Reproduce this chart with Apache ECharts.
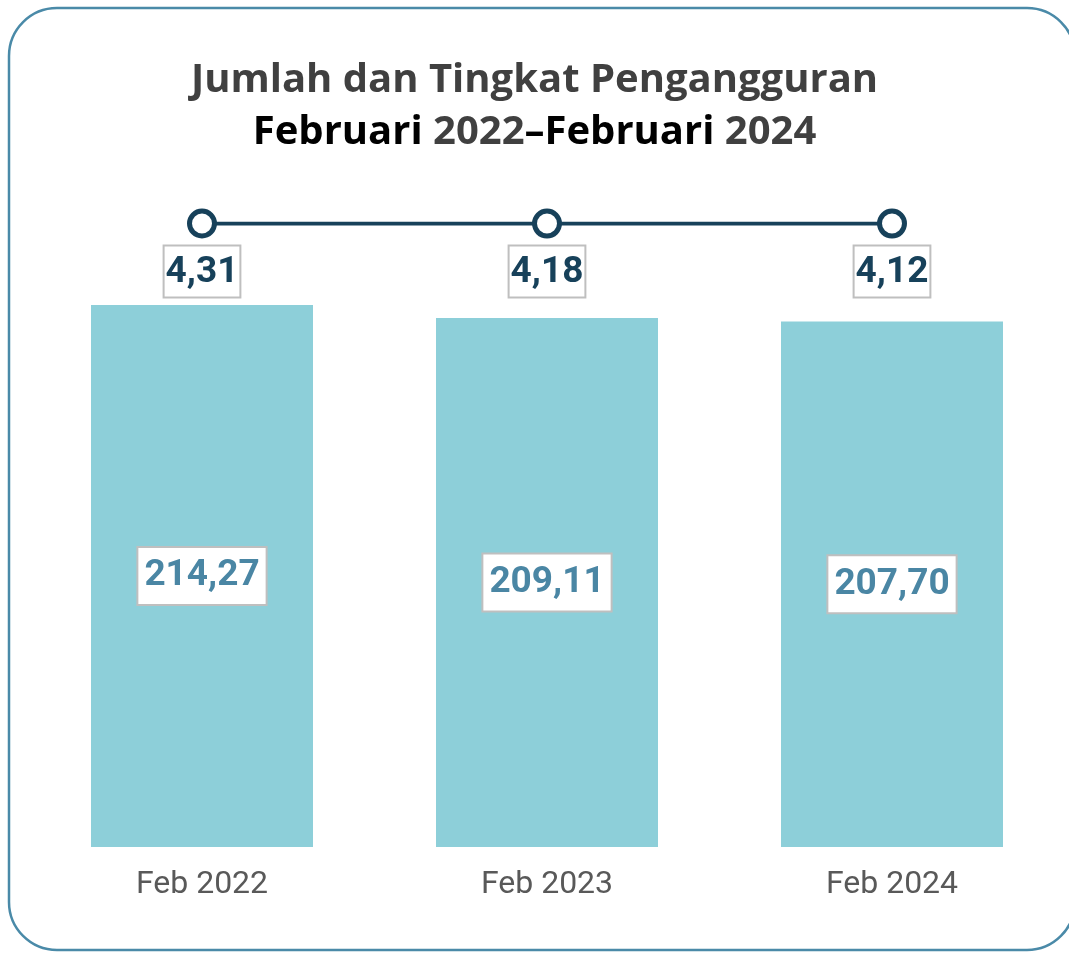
<!DOCTYPE html>
<html>
<head>
<meta charset="utf-8">
<script src="https://cdn.jsdelivr.net/npm/echarts@6/dist/echarts.min.js"></script>
<style>
  html, body { margin: 0; padding: 0; background: #fff; }
  #main { width: 1069px; height: 953px; }
</style>
</head>
<body>
<div id="main"></div>
<script>
// data
let categories = ['Feb 2022', 'Feb 2023', 'Feb 2024'];
let jumlah = [214.27, 209.11, 207.70];   // bars
let tingkat = [4.31, 4.18, 4.12];        // line

let narrow = 'Roboto, "Liberation Sans", sans-serif';
let fmt = function (v, d) { return v.toFixed(d).replace('.', ','); };

let chart = echarts.init(document.getElementById('main'));

let option = {
    backgroundColor: '#fff',
    animation: false,
    title: {
        left: 'center',
        top: 50,
        text: '{a|Jumlah dan Tingkat Pengangguran}\n{b|Februari }{c|2022}{b|–Februari }{c|2024}',
        textStyle: {
            rich: {
                a: { fontFamily: 'Open Sans', fontWeight: 'bold', fontSize: 40, color: '#404040', lineHeight: 52 },
                b: { fontFamily: 'Open Sans', fontWeight: 'bold', fontSize: 40, color: '#000', lineHeight: 52 },
                c: { fontFamily: 'Open Sans', fontWeight: 'bold', fontSize: 40, color: '#404040', lineHeight: 52 }
            }
        }
    },
    graphic: [{
        type: 'rect',
        shape: { x: 9, y: 8, width: 1066, height: 942, r: 48 },
        style: { fill: 'none', stroke: '#4A8AA8', lineWidth: 2.5 },
        z: 100
    }],
    grid: [
        { left: 29.5, width: 1035, top: 214.6, height: 632.4 },
        { left: 29.5, width: 1035, top: 223.5, height: 1 }
    ],
    xAxis: [
        {
            type: 'category', data: categories, gridIndex: 0,
            axisLine: { show: false }, axisTick: { show: false },
            axisLabel: { color: '#595959', fontSize: 32, fontFamily: narrow, margin: 22 }
        },
        {
            type: 'category', data: categories, gridIndex: 1, show: false
        }
    ],
    yAxis: [
        { type: 'value', gridIndex: 0, min: 0, max: 250, show: false, splitLine: { show: false } },
        { type: 'value', gridIndex: 1, min: 0, max: 4.31, show: false, splitLine: { show: false } }
    ],
    series: [
        {
            type: 'bar',
            data: jumlah,
            barWidth: 222,
            itemStyle: { color: '#8DCFD9' },
            label: {
                show: true,
                position: 'inside',
                formatter: function (p) { return fmt(p.value, 2); },
                fontFamily: narrow,
                fontWeight: 'bold',
                fontSize: 37,
                color: '#4A86A4',
                backgroundColor: '#fff',
                borderColor: '#BFBFBF',
                borderWidth: 2,
                padding: [7, 6, 5, 6],
                lineHeight: 44
            }
        },
        {
            type: 'line',
            xAxisIndex: 1,
            yAxisIndex: 1,
            data: tingkat,
            symbol: 'circle',
            symbolSize: 25,
            lineStyle: { color: '#17415A', width: 4 },
            itemStyle: { color: '#fff', borderColor: '#17415A', borderWidth: 5 },
            label: {
                show: true,
                position: 'bottom',
                distance: 8,
                formatter: function (p) { return fmt(p.value, 2); },
                fontFamily: narrow,
                fontWeight: 'bold',
                fontSize: 37,
                color: '#17415A',
                backgroundColor: '#fff',
                borderColor: '#BFBFBF',
                borderWidth: 2,
                padding: [6, 1, 4, 1],
                lineHeight: 40
            }
        }
    ]
};

chart.setOption(option);
</script>
</body>
</html>
